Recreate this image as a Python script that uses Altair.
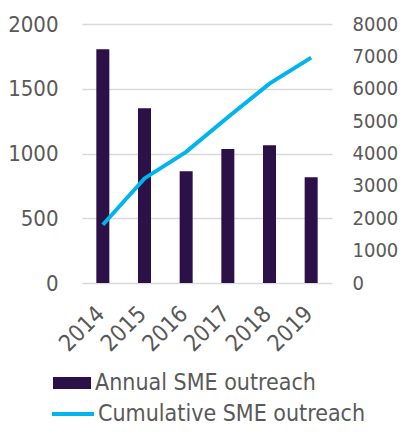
import altair as alt
import pandas as pd

years = ["2014", "2015", "2016", "2017", "2018", "2019"]
annual = [1805, 1350, 862, 1035, 1063, 816]
cumulative = [1800, 3230, 4050, 5120, 6160, 6960]

df = pd.DataFrame({"year": years, "annual": annual, "cumulative": cumulative})

FONT = "DejaVu Sans Condensed"
GRAY = "#595959"

base = alt.Chart(df).encode(
    x=alt.X("year:N", scale=alt.Scale(paddingInner=0, paddingOuter=0),
            axis=alt.Axis(title=None, labelAngle=-45, labelAlign="right", labelBaseline="middle",
                          labelFontSize=23, labelColor=GRAY, labelFont=FONT, labelOffset=-2,
                          ticks=False, domain=False, labelPadding=27))
)

bars = base.transform_calculate(s1="'Annual SME outreach'").mark_bar(size=13).encode(
    y=alt.Y("annual:Q", scale=alt.Scale(domain=[0, 2000]),
            axis=alt.Axis(title=None, values=[0, 500, 1000, 1500, 2000], format="d", ticks=False, domain=False,
                          labelFontSize=22, labelColor=GRAY, labelFont=FONT, labelPadding=24,
                          gridColor="#D9D9D9", gridWidth=1.5)),
    color=alt.Color("s1:N", scale=alt.Scale(domain=["Annual SME outreach"], range=["#2B1148"]),
                    legend=alt.Legend(title=None, orient="none", legendX=-29, legendY=340,
                                      symbolType="M-1,-0.316H1V0.316H-1Z", symbolSize=1444,
                                      symbolStrokeWidth=0, labelFontSize=23, labelColor=GRAY,
                                      labelFont=FONT, labelOffset=4, padding=0, labelLimit=0)),
)

line = base.transform_calculate(s2="'Cumulative SME outreach'").mark_line(strokeWidth=4).encode(
    y=alt.Y("cumulative:Q", scale=alt.Scale(domain=[0, 8000]),
            axis=alt.Axis(title=None, orient="right", values=list(range(0, 8001, 1000)), format="d", ticks=False,
                          domain=False, grid=False, labelFontSize=20, labelColor=GRAY,
                          labelFont=FONT, labelPadding=20)),
    stroke=alt.Stroke("s2:N", scale=alt.Scale(domain=["Cumulative SME outreach"], range=["#00B4F0"]),
                      legend=alt.Legend(title=None, orient="none", legendX=-32, legendY=367,
                                        symbolType="stroke", symbolSize=1764, symbolStrokeWidth=4,
                                        labelFontSize=23, labelColor=GRAY, labelFont=FONT,
                                        labelOffset=2, padding=0, labelLimit=0)),
)

chart = alt.layer(bars, line).resolve_scale(y="independent").properties(
    width=250, height=259,
    autosize=alt.AutoSizeParams(type="none"),
    padding={"left": 74, "top": 16, "right": 67, "bottom": 145},
).configure_view(stroke=None)

chart.save("out.html", embed_options={"renderer": "svg", "actions": False})
